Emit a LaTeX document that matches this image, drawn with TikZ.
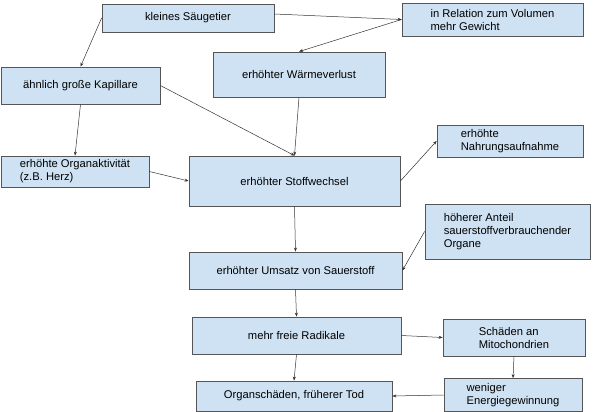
\documentclass[tikz,border=0pt]{standalone}
\usepackage{fontspec}
\setmainfont{Liberation Sans}
\definecolor{boxblue}{RGB}{207,226,243}
\definecolor{boxline}{RGB}{85,85,85}
\definecolor{arrowgray}{RGB}{50,50,50}
\usetikzlibrary{arrows.meta}

\begin{document}
\begin{tikzpicture}[x=1pt, y=-1pt,
      box/.style={rectangle, draw=boxline, fill=boxblue, line width=0.8pt,
                  align=left, inner sep=0pt, font=\fontsize{11.2}{13}\selectfont},
      arrow/.style={-{Stealth[length=4pt, width=3pt]}, line width=0.5pt, color=arrowgray}
    ]
    \useasboundingbox (0,0) rectangle (602,412);

    % top row
    \node[box, minimum width=172pt, minimum height=28pt] (saeuger) at (188,18) {kleines Säugetier};
    \node[box, minimum width=181pt, minimum height=33pt] (relation) at (492.5,19.5) {in Relation zum Volumen\\mehr Gewicht};
    \node[box, minimum width=159pt, minimum height=37pt] (kapillare) at (80.5,85.5) {ähnlich große Kapillare};
    \node[box, minimum width=172pt, minimum height=45pt] (waerme) at (299,74.5) {erhöhter Wärmeverlust};

    % middle row
    \node[box, minimum width=148pt, minimum height=31pt] (organakt) at (75,171.5) {erhöhte Organaktivität\\(z.B. Herz)};
    \node[box, minimum width=211pt, minimum height=50pt] (stoff) at (294.5,181) {erhöhter Stoffwechsel};
    \node[box, minimum width=146pt, minimum height=32pt] (nahrung) at (510,141) {erhöhte\\Nahrungsaufnahme};
    \node[box, minimum width=165pt, minimum height=55pt] (anteil) at (507.5,231.5) {höherer Anteil\\sauerstoffverbrauchender\\Organe};
    \node[box, minimum width=213pt, minimum height=37pt] (umsatz) at (295.5,270.5) {erhöhter Umsatz von Sauerstoff};

    % bottom rows
    \node[box, minimum width=209pt, minimum height=37pt] (radikale) at (296.5,335.5) {mehr freie Radikale};
    \node[box, minimum width=142pt, minimum height=37pt] (mito) at (514,337.5) {Schäden an\\Mitochondrien};
    \node[box, minimum width=196pt, minimum height=30pt] (tod) at (294,396) {Organschäden, früherer Tod};
    \node[box, minimum width=138pt, minimum height=33pt] (energie) at (513,395) {weniger\\Energiegewinnung};

    \draw[arrow] (saeuger.west) -- (kapillare.north);
    \draw[arrow] ([yshift=4pt]saeuger.east) -- (relation.west);
    \draw[arrow] (relation.west) -- (waerme.north);
    \draw[arrow] (kapillare.east) -- (stoff.north);
    \draw[arrow] (waerme.south) -- (stoff.north);
    \draw[arrow] (kapillare.south) -- (organakt.north);
    \draw[arrow] (organakt.east) -- (stoff.west);
    \draw[arrow] (stoff.east) -- (nahrung.west);
    \draw[arrow] (stoff.south) -- (umsatz.north);
    \draw[arrow] (anteil.west) -- (umsatz.east);
    \draw[arrow] (umsatz.south) -- (radikale.north);
    \draw[arrow] (radikale.east) -- (mito.west);
    \draw[arrow] (radikale.south) -- (tod.north);
    \draw[arrow] (mito.south) -- (energie.north);
    \draw[arrow] (energie.west) -- (tod.east);

  \end{tikzpicture}
\end{document}
